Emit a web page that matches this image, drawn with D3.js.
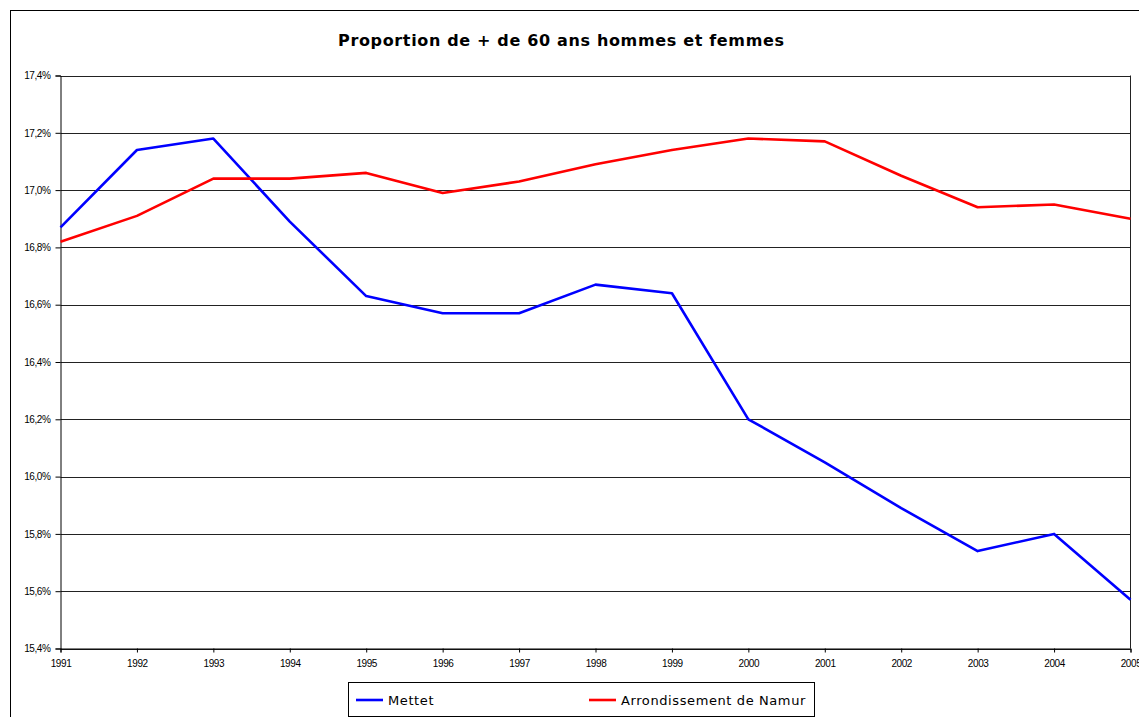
<!DOCTYPE html>
<html>
<head>
<meta charset="utf-8">
<script src="https://cdn.jsdelivr.net/npm/d3@7"></script>
<style>
  body { margin: 0; background: #fff; }
  svg { display: block; }
  .tick-label { font-family: "Liberation Sans", Arial, sans-serif; font-size: 10px; letter-spacing: -0.4px; fill: #000; }
  .title { font-family: "DejaVu Sans", Verdana, sans-serif; font-weight: bold; font-size: 16px; fill: #000; }
  .legend-text { font-family: "DejaVu Sans", Verdana, sans-serif; font-size: 13px; letter-spacing: 0.6px; fill: #000; }
</style>
</head>
<body>
<div id="chart"></div>
<script>
// --- data ---
const years = [1991, 1992, 1993, 1994, 1995, 1996, 1997, 1998, 1999, 2000, 2001, 2002, 2003, 2004, 2005];
const mettet = [16.87, 17.14, 17.18, 16.89, 16.63, 16.57, 16.57, 16.67, 16.64, 16.20, 16.05, 15.89, 15.74, 15.80, 15.57];
const namur = [16.82, 16.91, 17.04, 17.04, 17.06, 16.99, 17.03, 17.09, 17.14, 17.18, 17.17, 17.05, 16.94, 16.95, 16.90];
const yTicks = [15.4, 15.6, 15.8, 16.0, 16.2, 16.4, 16.6, 16.8, 17.0, 17.2, 17.4];
const seriesNames = ["Mettet", "Arrondissement de Namur"];
const seriesColors = ["#0000ff", "#ff0000"];

const width = 1139, height = 717;
const plot = { left: 60.5, right: 1130.5, top: 75.5, bottom: 648.5 };

const svg = d3.select("#chart").append("svg")
    .attr("width", width)
    .attr("height", height);

// outer chart border (cropped on right and bottom like the reference)
svg.append("rect")
    .attr("x", 10.5).attr("y", 10.5)
    .attr("width", 1200).attr("height", 800)
    .attr("fill", "none").attr("stroke", "#000").attr("stroke-width", 1);

svg.append("text")
    .attr("class", "title")
    .attr("x", 561).attr("y", 46)
    .attr("text-anchor", "middle")
    .attr("textLength", 446)
    .attr("lengthAdjust", "spacing")
    .text("Proportion de + de 60 ans hommes et femmes");

const x = d3.scaleLinear().domain([1991, 2005]).range([plot.left, plot.right]);
const y = d3.scaleLinear().domain([15.4, 17.4]).range([plot.bottom, plot.top]);

// gridlines
svg.append("g")
    .selectAll("line")
    .data(yTicks)
    .join("line")
    .attr("x1", plot.left).attr("x2", plot.right)
    .attr("y1", d => Math.round(y(d)) + 0.5).attr("y2", d => Math.round(y(d)) + 0.5)
    .attr("stroke", "#222").attr("stroke-width", 1);

// right border of plot
svg.append("line")
    .attr("x1", plot.right).attr("x2", plot.right)
    .attr("y1", plot.top).attr("y2", plot.bottom)
    .attr("stroke", "#222");

// y axis
const fmt = d => d.toFixed(1).replace(".", ",") + "%";
const yAxis = svg.append("g")
    .attr("transform", `translate(${plot.left},0)`)
    .call(d3.axisLeft(y).tickValues(yTicks).tickSize(5).tickPadding(5).tickFormat(fmt));
yAxis.select(".domain").attr("stroke", "#000");
yAxis.selectAll(".tick line").attr("stroke", "#000");
yAxis.selectAll(".tick text").attr("class", "tick-label").attr("font-family", null).attr("font-size", null);

// x axis
const xAxis = svg.append("g")
    .attr("transform", `translate(0,${plot.bottom})`)
    .call(d3.axisBottom(x).tickValues(years).tickSize(4).tickPadding(7).tickFormat(d3.format("d")));
xAxis.select(".domain").attr("stroke", "#000");
xAxis.selectAll(".tick line").attr("stroke", "#000");
xAxis.selectAll(".tick text").attr("class", "tick-label").attr("font-family", null).attr("font-size", null);

// lines
const line = d3.line()
    .x((d, i) => x(years[i]))
    .y(d => y(d));

[mettet, namur].forEach((vals, k) => {
    svg.append("path")
        .datum(vals)
        .attr("d", line)
        .attr("fill", "none")
        .attr("stroke", seriesColors[k])
        .attr("stroke-width", 2.6)
        .attr("stroke-linejoin", "round");
});

// legend
const legend = svg.append("g");
legend.append("rect")
    .attr("x", 348.5).attr("y", 682.5)
    .attr("width", 466).attr("height", 34)
    .attr("fill", "#fff").attr("stroke", "#000");

const legendX = [356, 589];
seriesNames.forEach((name, k) => {
    legend.append("line")
        .attr("x1", legendX[k]).attr("x2", legendX[k] + 27)
        .attr("y1", 700).attr("y2", 700)
        .attr("stroke", seriesColors[k]).attr("stroke-width", 2.6);
    legend.append("text")
        .attr("class", "legend-text")
        .attr("x", legendX[k] + 32).attr("y", 705)
        .text(name);
});
</script>
</body>
</html>
